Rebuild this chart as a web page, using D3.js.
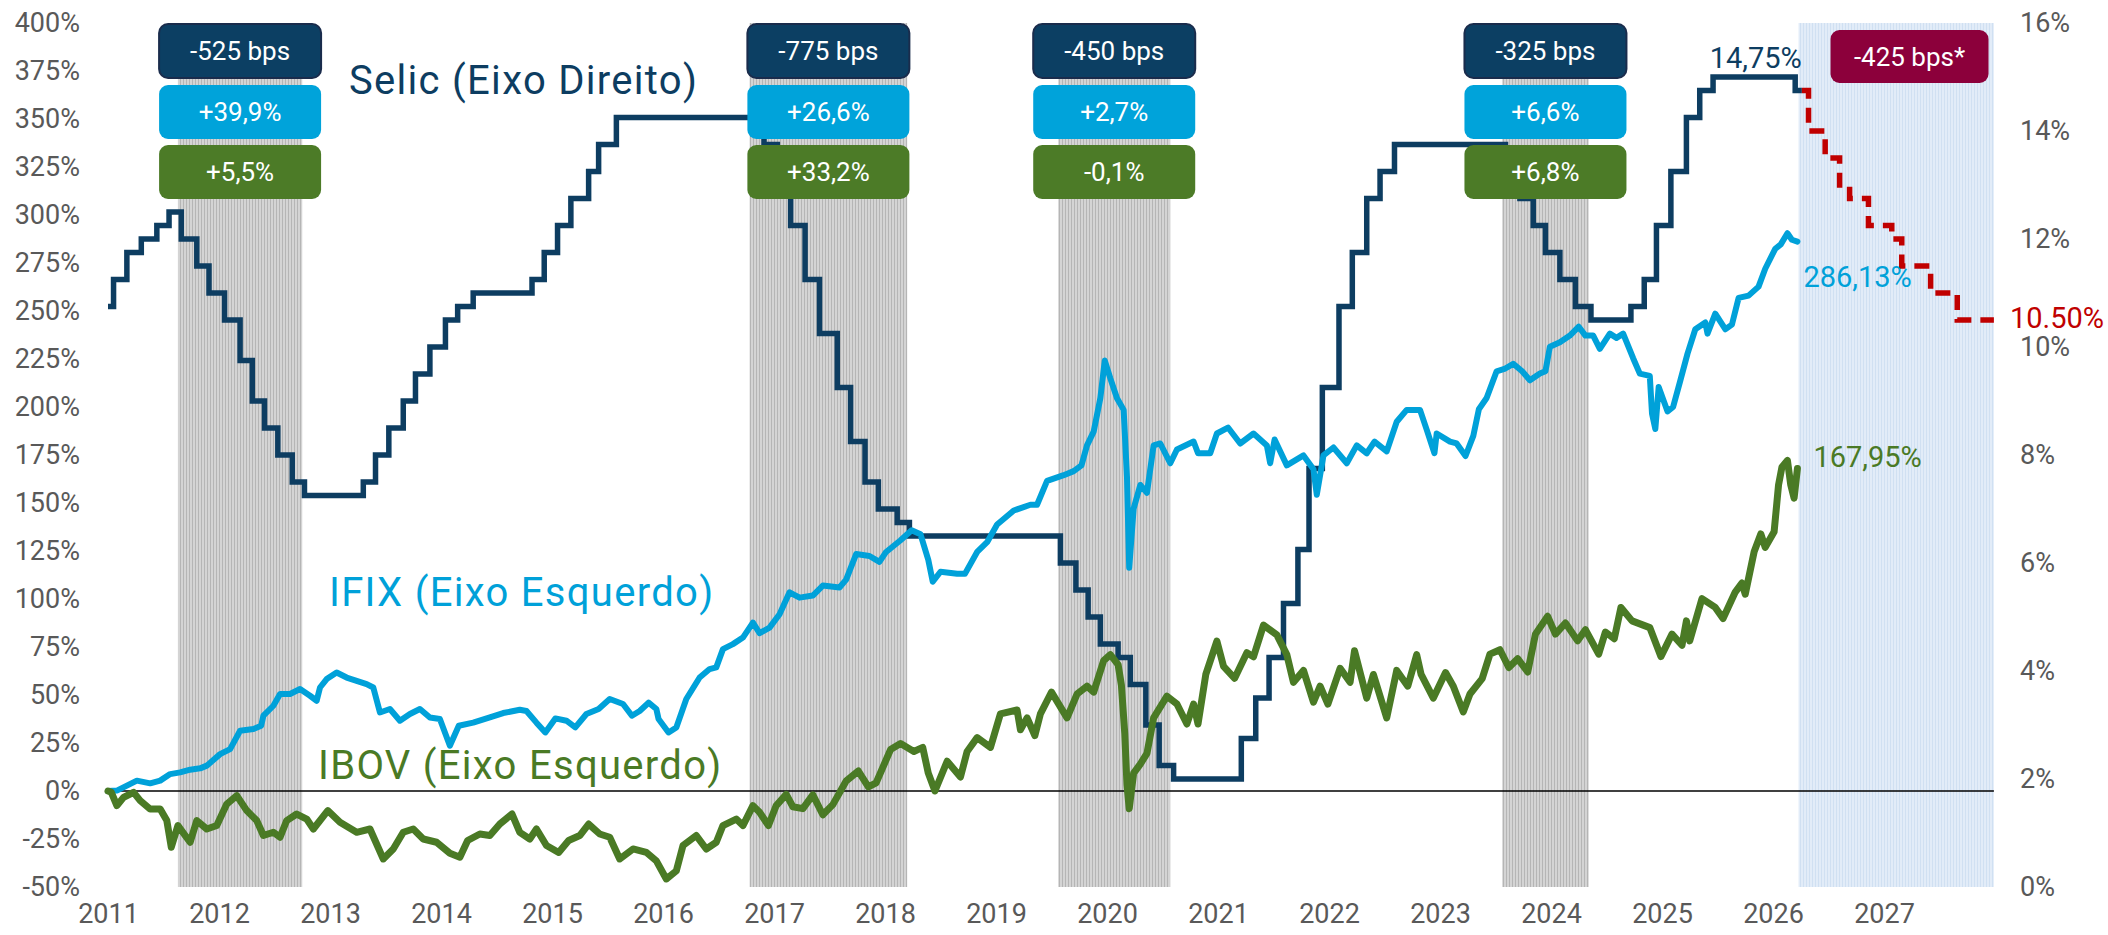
<!DOCTYPE html>
<html>
<head>
<meta charset="utf-8">
<title>Selic, IFIX e IBOV</title>
<script src="https://cdn.jsdelivr.net/npm/d3@7"></script>
<style>
  body { margin: 0; background: #fff; }
  svg { display: block; font-family: Roboto, "Noto Sans", sans-serif; }
  .tick text { fill: #595959; font-size: 27px; }
  .box-text { fill: #fff; font-size: 26px; }
  .serie-label { font-size: 40px; letter-spacing: 1.3px; }
  .value-label { font-size: 29px; }
</style>
</head>
<body>
<script>
// tick labels
var yearTicks = d3.range(2011, 2028);
var leftTicks = [-50, -25, 0, 25, 50, 75, 100, 125, 150, 175, 200, 225, 250, 275, 300, 325, 350, 375, 400];
var rightTicks = [0, 2, 4, 6, 8, 10, 12, 14, 16];

// Selic meta (% a.a.), [ano decimal, taxa]
var selic = [[2011.00,10.75],[2011.05,11.25],[2011.17,11.75],[2011.30,12.00],[2011.44,12.25],[2011.55,12.50],
  [2011.66,12.00],[2011.80,11.50],[2011.91,11.00],[2012.05,10.50],[2012.19,9.75],[2012.30,9.00],[2012.41,8.50],
  [2012.53,8.00],[2012.66,7.50],[2012.77,7.25],[2013.30,7.50],[2013.41,8.00],[2013.53,8.50],[2013.66,9.00],
  [2013.77,9.50],[2013.90,10.00],[2014.04,10.50],[2014.15,10.75],[2014.29,11.00],[2014.82,11.25],[2014.93,11.75],
  [2015.05,12.25],[2015.17,12.75],[2015.33,13.25],[2015.42,13.75],[2015.58,14.25],[2016.80,14.00],[2016.91,13.75],
  [2017.03,13.00],[2017.15,12.25],[2017.28,11.25],[2017.41,10.25],[2017.57,9.25],[2017.69,8.25],[2017.82,7.50],
  [2017.94,7.00],[2018.11,6.75],[2018.22,6.50],[2019.58,6.00],[2019.72,5.50],[2019.83,5.00],[2019.94,4.50],
  [2020.10,4.25],[2020.21,3.75],[2020.35,3.00],[2020.47,2.25],[2020.60,2.00],[2021.21,2.75],[2021.34,3.50],
  [2021.46,4.25],[2021.59,5.25],[2021.72,6.25],[2021.82,7.75],[2021.94,9.25],[2022.09,10.75],[2022.21,11.75],
  [2022.34,12.75],[2022.46,13.25],[2022.59,13.75],[2023.59,13.25],[2023.72,12.75],[2023.84,12.25],[2023.95,11.75],
  [2024.08,11.25],[2024.22,10.75],[2024.36,10.50],[2024.72,10.75],[2024.84,11.25],[2024.95,12.25],[2025.08,13.25],
  [2025.22,14.25],[2025.34,14.75],[2025.46,15.00],[2026.20,14.75],[2026.26,14.75]];

// Selic projetada
var selicProj = [[2026.26,14.75],[2026.32,14.00],[2026.47,13.50],[2026.60,13.00],[2026.69,12.75],[2026.86,12.25],
  [2027.07,12.00],[2027.16,11.50],[2027.42,11.00],[2027.66,10.50],[2027.99,10.50]];

// IFIX, retorno acumulado (%)
var ifix = [[2011.00,0],[2011.08,0.2],[2011.26,5.4],[2011.38,4.0],[2011.47,5.4],[2011.56,8.8],[2011.65,9.7],
  [2011.74,11.1],[2011.83,11.8],[2011.89,13.2],[2012.01,19.2],[2012.10,21.8],[2012.19,31.4],[2012.31,32.3],
  [2012.38,34.0],[2012.40,39.2],[2012.49,44.4],[2012.55,50.5],[2012.64,50.5],[2012.73,53.1],[2012.82,49.6],
  [2012.88,47.0],[2012.91,53.9],[2012.97,58.3],[2013.06,61.7],[2013.15,59.1],[2013.24,57.4],[2013.33,55.7],
  [2013.39,53.9],[2013.45,40.9],[2013.54,42.7],[2013.63,36.6],[2013.72,40.1],[2013.81,42.7],[2013.90,38.3],
  [2013.99,37.5],[2014.08,23.6],[2014.16,34.0],[2014.29,35.6],[2014.44,38.3],[2014.56,40.6],[2014.71,42.3],
  [2014.77,41.7],[2014.86,35.6],[2014.94,30.5],[2015.03,37.8],[2015.13,36.6],[2015.21,33.1],[2015.31,40.1],
  [2015.42,42.7],[2015.52,47.9],[2015.64,45.3],[2015.72,39.2],[2015.79,41.7],[2015.87,46.0],[2015.94,42.7],
  [2015.96,37.5],[2016.05,30.5],[2016.12,33.1],[2016.21,47.9],[2016.33,59.1],[2016.42,63.5],[2016.48,64.4],
  [2016.54,73.9],[2016.63,76.5],[2016.72,79.9],[2016.81,87.7],[2016.87,82.2],[2016.96,85.1],[2017.05,92.1],
  [2017.14,103.5],[2017.23,100.7],[2017.35,101.8],[2017.44,107.0],[2017.59,106.0],[2017.65,110.1],[2017.74,123.4],
  [2017.86,122.4],[2017.95,119.3],[2018.01,124.5],[2018.14,130.6],[2018.24,135.8],[2018.32,133.7],[2018.39,120.4],
  [2018.43,109.0],[2018.50,114.2],[2018.65,113.1],[2018.72,113.1],[2018.83,124.5],[2018.92,129.6],[2019.01,138.8],
  [2019.16,146.1],[2019.31,149.1],[2019.37,149.1],[2019.46,161.5],[2019.61,164.5],[2019.70,166.6],[2019.77,169.6],
  [2019.82,180],[2019.88,187.2],[2019.94,204.6],[2019.98,224.2],[2020.03,214.9],[2020.09,204.6],[2020.15,198.5],
  [2020.18,163.5],[2020.20,116.3],[2020.24,147.1],[2020.30,159.4],[2020.36,155.3],[2020.42,180],[2020.48,181],
  [2020.57,170.7],[2020.63,177.9],[2020.78,182],[2020.82,175.9],[2020.93,175.9],[2020.99,186.2],[2021.09,189.3],
  [2021.20,181],[2021.32,186.2],[2021.44,180],[2021.47,170.7],[2021.51,183.1],[2021.62,169.6],[2021.77,174.8],
  [2021.86,167.6],[2021.89,154.3],[2021.95,174.8],[2022.04,178.9],[2022.16,170.7],[2022.25,180],[2022.34,175.9],
  [2022.41,182],[2022.52,176.9],[2022.61,192.3],[2022.70,198.5],[2022.82,198.5],[2022.88,188.2],[2022.95,175.9],
  [2022.97,186.2],[2023.09,182],[2023.15,181],[2023.23,174.5],[2023.30,185],[2023.35,198.8],[2023.42,204.7],
  [2023.51,218.6],[2023.58,219.8],[2023.66,222.5],[2023.74,218.6],[2023.81,213.9],[2023.90,217.4],[2023.95,218.6],
  [2023.99,231.4],[2024.08,233.7],[2024.17,237.2],[2024.25,241.8],[2024.31,237.2],[2024.38,237.2],[2024.44,230.3],
  [2024.53,238.2],[2024.59,236],[2024.65,238.2],[2024.74,225.4],[2024.80,217.4],[2024.89,216.2],[2024.91,196.6],
  [2024.94,188.5],[2024.97,210.4],[2025.05,197.7],[2025.10,200],[2025.16,212.7],[2025.23,227.8],[2025.30,240.5],
  [2025.39,244],[2025.41,238.2],[2025.48,248.6],[2025.57,240.5],[2025.63,242.9],[2025.69,256.8],[2025.78,258],
  [2025.87,262.7],[2025.93,272],[2026.02,282.4],[2026.07,284.7],[2026.13,290.5],[2026.17,287.1],[2026.22,286.13]];

// IBOV, retorno acumulado (%)
var ibov = [[2011.00,0],[2011.03,-0.7],[2011.08,-7.6],[2011.14,-3.3],[2011.23,-0.7],[2011.29,-5.0],[2011.38,-9.4],
  [2011.47,-9.4],[2011.53,-15.4],[2011.57,-29.3],[2011.63,-18.0],[2011.74,-26.7],[2011.80,-15.4],[2011.89,-19.8],
  [2011.98,-18.0],[2012.07,-6.8],[2012.16,-2.4],[2012.25,-10.2],[2012.34,-15.4],[2012.40,-23.2],[2012.49,-21.5],
  [2012.55,-24.1],[2012.61,-15.4],[2012.70,-12.0],[2012.79,-14.6],[2012.85,-19.8],[2012.98,-10.2],[2013.09,-16.3],
  [2013.24,-21.5],[2013.36,-19.8],[2013.48,-35.4],[2013.57,-30.2],[2013.66,-21.5],[2013.75,-19.8],[2013.84,-25.0],
  [2013.96,-26.7],[2014.08,-32.4],[2014.17,-34.5],[2014.24,-25.8],[2014.35,-22.4],[2014.44,-23.2],[2014.53,-17.2],
  [2014.64,-12.0],[2014.71,-21.5],[2014.80,-25.0],[2014.86,-19.8],[2014.95,-28.4],[2015.06,-32.0],[2015.15,-25.8],
  [2015.25,-23.2],[2015.33,-17.2],[2015.43,-22.4],[2015.52,-24.1],[2015.61,-35.4],[2015.73,-30.2],[2015.85,-32.0],
  [2015.94,-36.4],[2016.03,-45.8],[2016.12,-41.6],[2016.18,-28.4],[2016.30,-23.2],[2016.39,-30.2],[2016.48,-26.7],
  [2016.54,-18.0],[2016.66,-14.6],[2016.72,-18.0],[2016.81,-7.6],[2016.87,-11.1],[2016.95,-18.0],[2017.02,-7.6],
  [2017.11,-1.8],[2017.17,-8.2],[2017.26,-9.2],[2017.35,-2.0],[2017.44,-12.4],[2017.53,-7.1],[2017.65,5.2],
  [2017.76,10.4],[2017.85,2.1],[2017.92,4.2],[2018.05,21.6],[2018.14,24.7],[2018.26,20.6],[2018.34,22.7],
  [2018.39,9.3],[2018.45,0],[2018.56,15.5],[2018.68,7.3],[2018.74,20.6],[2018.83,27.8],[2018.95,22.7],
  [2019.04,40.2],[2019.19,42.2],[2019.22,31.9],[2019.28,38.1],[2019.35,28.9],[2019.40,40.2],[2019.50,51.5],
  [2019.64,38.1],[2019.73,50.5],[2019.82,54.6],[2019.88,51.5],[2019.97,67.9],[2020.03,71],[2020.10,65.8],
  [2020.13,55],[2020.16,30],[2020.18,3.2],[2020.20,-9.2],[2020.24,9.3],[2020.30,14],[2020.36,19.6],[2020.42,38.1],
  [2020.54,49.4],[2020.63,45.3],[2020.72,34.9],[2020.78,45.3],[2020.82,34.9],[2020.89,60.7],[2020.99,78.1],
  [2021.05,64.9],[2021.15,58.7],[2021.26,72],[2021.32,69.9],[2021.41,86.4],[2021.53,81.3],[2021.62,71],
  [2021.68,56.6],[2021.77,62.8],[2021.86,46.3],[2021.92,54.6],[2021.99,45.3],[2022.10,63.9],[2022.19,56.6],
  [2022.23,73],[2022.34,48.4],[2022.40,60.7],[2022.52,38.1],[2022.61,62.8],[2022.71,54.6],[2022.79,71],
  [2022.83,60.7],[2022.94,48.4],[2023.05,61.7],[2023.12,54.6],[2023.21,41.2],[2023.27,50.5],[2023.38,58.5],
  [2023.45,71.3],[2023.54,73.6],[2023.62,64.3],[2023.70,68.9],[2023.79,62],[2023.86,81.7],[2023.97,91],
  [2024.04,81.7],[2024.13,87.5],[2024.24,78.2],[2024.31,84],[2024.43,71.3],[2024.49,82.8],[2024.57,79.3],
  [2024.63,95.6],[2024.73,88.6],[2024.89,85.1],[2024.99,70],[2025.09,81.7],[2025.18,75.9],[2025.22,88.6],
  [2025.25,78.2],[2025.36,100.2],[2025.48,95.6],[2025.55,89.8],[2025.66,103.6],[2025.72,108.3],[2025.75,102.5],
  [2025.83,124.6],[2025.89,133.9],[2025.93,126.9],[2026.01,135],[2026.05,159.4],[2026.08,168.6],[2026.13,172.2],
  [2026.16,159.4],[2026.19,152.5],[2026.22,167.95]];

// ciclos de corte da Selic (faixas cinza) e projeção (faixa azul)
var cycleStart = [2011.63, 2016.78, 2019.56, 2023.56];
var cycleEnd = [2012.75, 2018.20, 2020.57, 2024.34];
var projStart = 2026.23, projEnd = 2027.99;

// textos das caixas de cada ciclo
var boxSelic = ["-525 bps", "-775 bps", "-450 bps", "-325 bps"];
var boxIfix = ["+39,9%", "+26,6%", "+2,7%", "+6,6%"];
var boxIbov = ["+5,5%", "+33,2%", "-0,1%", "+6,8%"];
var boxProj = "-425 bps*";

// dimensions
var w = 2108;
var h = 935;
var navy = "#0d3d61", blue = "#00a1d9", green = "#4a7a25", red = "#c00000";

var svg = d3.select("body").append("svg")
  .attr("width", w)
  .attr("height", h);

// scales
var x = d3.scaleLinear().domain([2011, 2028]).range([108, 1995]);
var yL = d3.scaleLinear().domain([-50, 400]).range([887, 23]);
var yR = d3.scaleLinear().domain([0, 16]).range([887, 23]);

// hatch patterns for the bands
var defs = svg.append("defs");
var pg = defs.append("pattern").attr("id", "hatchGray")
  .attr("patternUnits", "userSpaceOnUse").attr("width", 3).attr("height", 10);
pg.append("rect").attr("width", 3).attr("height", 10).attr("fill", "#d4d4d4");
pg.append("rect").attr("width", 1).attr("height", 10).attr("fill", "#b5b5b5");
var pb = defs.append("pattern").attr("id", "hatchBlue")
  .attr("patternUnits", "userSpaceOnUse").attr("width", 3).attr("height", 10);
pb.append("rect").attr("width", 3).attr("height", 10).attr("fill", "#e2ecf8");
pb.append("rect").attr("width", 1).attr("height", 10).attr("fill", "#d0e0f2");

svg.selectAll("rect.band")
  .data(cycleStart)
  .enter().append("rect")
  .attr("class", "band")
  .attr("x", function(d) { return x(d); })
  .attr("width", function(d, i) { return x(cycleEnd[i]) - x(d); })
  .attr("y", yL(400))
  .attr("height", yL(-50) - yL(400))
  .attr("fill", "url(#hatchGray)");

svg.append("rect")
  .attr("x", x(projStart))
  .attr("width", x(projEnd) - x(projStart))
  .attr("y", yL(400))
  .attr("height", yL(-50) - yL(400))
  .attr("fill", "url(#hatchBlue)");

// zero line
svg.append("line")
  .attr("x1", x(2011)).attr("x2", x(projEnd))
  .attr("y1", yL(0)).attr("y2", yL(0))
  .attr("stroke", "#000").attr("stroke-width", 1.5);

// axes
var gl = svg.append("g")
  .attr("transform", "translate(82,0)")
  .call(d3.axisLeft(yL).tickValues(leftTicks).tickFormat(function(d) { return d + "%"; })
    .tickSize(0).tickPadding(2));
var gr = svg.append("g")
  .attr("transform", "translate(2016,0)")
  .call(d3.axisRight(yR).tickValues(rightTicks).tickFormat(function(d) { return d + "%"; })
    .tickSize(0).tickPadding(4));
var gb = svg.append("g")
  .attr("transform", "translate(0,901)")
  .call(d3.axisBottom(x).tickValues(yearTicks).tickFormat(d3.format("d"))
    .tickSize(0).tickPadding(3));
[gl, gr, gb].forEach(function(g) {
  g.select(".domain").remove();
  g.attr("font-size", null).attr("font-family", null);
});

// lines
var lineR = d3.line()
  .x(function(d) { return x(d[0]); })
  .y(function(d) { return yR(d[1]); })
  .curve(d3.curveStepAfter);
var lineL = d3.line()
  .x(function(d) { return x(d[0]); })
  .y(function(d) { return yL(d[1]); });

svg.append("path")
  .datum(selic)
  .attr("d", lineR)
  .attr("fill", "none")
  .attr("stroke", navy)
  .attr("stroke-width", 5.5);

svg.append("path")
  .datum(selicProj)
  .attr("d", lineR)
  .attr("fill", "none")
  .attr("stroke", red)
  .attr("stroke-width", 5.5)
  .attr("stroke-dasharray", "15,9");

svg.append("path")
  .datum(ifix)
  .attr("d", lineL)
  .attr("fill", "none")
  .attr("stroke", blue)
  .attr("stroke-width", 6)
  .attr("stroke-linejoin", "round")
  .attr("stroke-linecap", "round");

svg.append("path")
  .datum(ibov)
  .attr("d", lineL)
  .attr("fill", "none")
  .attr("stroke", green)
  .attr("stroke-width", 7)
  .attr("stroke-linejoin", "round")
  .attr("stroke-linecap", "round");

// boxes above each cutting cycle
var boxW = 162, boxH = 54;
var rows = [
  { texts: boxSelic, fill: "#0c3f63", stroke: "#1a2c4c", y: 24 },
  { texts: boxIfix, fill: "#00a3da", stroke: "none", y: 85 },
  { texts: boxIbov, fill: "#4c7b27", stroke: "none", y: 145 }
];
rows.forEach(function(row) {
  var g = svg.selectAll(null)
    .data(row.texts)
    .enter().append("g")
    .attr("transform", function(d, i) {
      var cx = (x(cycleStart[i]) + x(cycleEnd[i])) / 2;
      return "translate(" + (cx - boxW / 2) + "," + row.y + ")";
    });
  g.append("rect")
    .attr("width", boxW).attr("height", boxH).attr("rx", 9)
    .attr("fill", row.fill)
    .attr("stroke", row.stroke).attr("stroke-width", 2);
  g.append("text")
    .attr("class", "box-text")
    .attr("x", boxW / 2).attr("y", boxH / 2)
    .attr("text-anchor", "middle")
    .attr("dominant-baseline", "central")
    .text(function(d) { return d; });
});

// projection box
var pgx = x(projStart) + 32;
svg.append("rect")
  .attr("x", pgx).attr("y", 30)
  .attr("width", 158).attr("height", 53).attr("rx", 9)
  .attr("fill", "#8c003b");
svg.append("text")
  .attr("class", "box-text")
  .attr("x", pgx + 79).attr("y", 57)
  .attr("text-anchor", "middle")
  .attr("dominant-baseline", "central")
  .text(boxProj);

// series labels
svg.append("text").attr("class", "serie-label")
  .attr("x", 349).attr("y", 94).attr("fill", navy)
  .text("Selic (Eixo Direito)");
svg.append("text").attr("class", "serie-label")
  .attr("x", 329).attr("y", 606).attr("fill", blue)
  .text("IFIX (Eixo Esquerdo)");
svg.append("text").attr("class", "serie-label")
  .attr("x", 318).attr("y", 779).attr("fill", green)
  .text("IBOV (Eixo Esquerdo)");

// end values
var lastSelic = selic[selic.length - 1];
var lastIfix = ifix[ifix.length - 1];
var lastIbov = ibov[ibov.length - 1];
var lastProj = selicProj[selicProj.length - 1];

svg.append("text").attr("class", "value-label")
  .attr("x", x(lastSelic[0])).attr("y", yR(15) - 9)
  .attr("text-anchor", "end").attr("fill", navy)
  .text("14,75%");
svg.append("text").attr("class", "value-label")
  .attr("x", x(lastIfix[0]) + 6).attr("y", yL(lastIfix[1]) + 45)
  .attr("fill", blue)
  .text("286,13%");
svg.append("text").attr("class", "value-label")
  .attr("x", x(lastIbov[0]) + 16).attr("y", yL(lastIbov[1]) - 2)
  .attr("fill", green)
  .text("167,95%");
svg.append("text").attr("class", "value-label")
  .attr("x", 2010).attr("y", yR(lastProj[1]) - 2)
  .attr("dominant-baseline", "central")
  .attr("fill", red)
  .text("10.50%");
</script>
</body>
</html>
